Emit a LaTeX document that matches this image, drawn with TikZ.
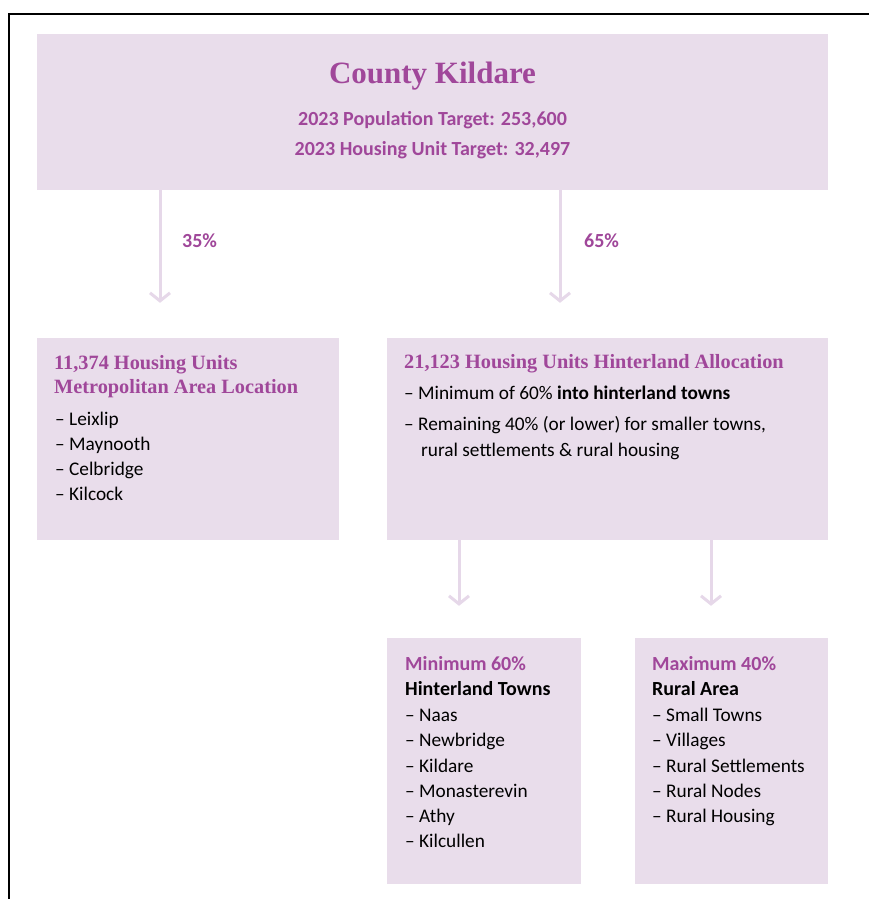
\documentclass[tikz,border=0pt]{standalone}
\usepackage{fontspec}
\setmainfont{Carlito}
\newfontfamily\headserif{Liberation Serif}
\usetikzlibrary{arrows.meta}
\definecolor{boxfill}{HTML}{E9DDEB}
\definecolor{arrowcol}{HTML}{E6D8E9}
\definecolor{kpurple}{HTML}{A0479A}
\begin{document}
\begin{tikzpicture}[x=1pt,y=-1pt,
  box/.style={fill=boxfill, draw=none, inner sep=0pt},
  txt/.style={anchor=west, inner sep=0pt, yshift=-2pt, text height=13pt, text depth=4pt, font=\fontsize{19.3}{22}\selectfont},
  btxt/.style={txt, font=\fontsize{20}{22}\selectfont\bfseries},
  ptxt/.style={txt, text=kpurple, font=\fontsize{20}{22}\selectfont\bfseries},
  head/.style={anchor=west, inner sep=0pt, yshift=-2pt, text height=13pt, text depth=4pt, text=kpurple, font=\headserif\bfseries\fontsize{20.3}{22}\selectfont},
  sub/.style={inner sep=0pt, text=kpurple, font=\fontsize{20}{22}\selectfont\bfseries},
  pct/.style={anchor=west, inner sep=0pt, text=kpurple, font=\fontsize{20}{22}\selectfont\bfseries},
  arr/.style={draw=arrowcol, line width=3pt, -{Straight Barb[length=8pt,width=20pt]}}
]
\useasboundingbox (0,0) rectangle (869,899);
\fill[white] (0,0) rectangle (869,899);
% frame
\draw[line width=2pt, line cap=rect] (9,899) -- (9,14) -- (869,14);

% boxes
\node[box, minimum width=791pt, minimum height=156pt] (top) at (432.5,112) {};
\node[box, minimum width=302pt, minimum height=202pt] (metro) at (188,439) {};
\node[box, minimum width=441pt, minimum height=202pt] (hint) at (607.5,439) {};
\node[box, minimum width=194pt, minimum height=246pt] (towns) at (484,761) {};
\node[box, minimum width=193pt, minimum height=246pt] (rural) at (731.5,761) {};

% top text
\node[inner sep=0pt, text=kpurple, font=\headserif\bfseries\fontsize{31}{34}\selectfont] (title) at (432.5,76) {County Kildare};
\node[sub] (pop) at (432.5,120) {2023 Population Target: 253,600};
\node[sub] (hu) at (432.5,150) {2023 Housing Unit Target: 32,497};

% arrows
\path ([xshift=-28pt]metro.north) coordinate (a1);
\path ([xshift=-47.5pt]hint.north) coordinate (a2);
\path ([xshift=-25pt]towns.north) coordinate (a3);
\path ([xshift=-20.5pt]rural.north) coordinate (a4);
\draw[arr, shorten >=35pt] (top.south -| a1) -- (a1);
\draw[arr, shorten >=35pt] (top.south -| a2) -- (a2);
\draw[arr, shorten >=32pt] (hint.south -| a3) -- (a3);
\draw[arr, shorten >=32pt] (hint.south -| a4) -- (a4);
\node[pct] (p35) at (182,241) {35\%};
\node[pct] (p65) at (584,241) {65\%};

% metro box
\node[head] (m1) at (54,363) {11,374 Housing Units};
\node[head] (m2) at (54,387) {Metropolitan Area Location};
\node[txt] (m3) at (55,419) {– Leixlip};
\node[txt] (m4) at (55,444) {– Maynooth};
\node[txt] (m5) at (55,469) {– Celbridge};
\node[txt] (m6) at (55,494) {– Kilcock};

% hinterland box
\node[head] (h1) at (404,362) {21,123 Housing Units Hinterland Allocation};
\node[txt] (h2) at (404,393) {– Minimum of 60\% \textbf{into hinterland towns}};
\node[txt] (h3) at (404,424) {– Remaining 40\% (or lower) for smaller towns,};
\node[txt] (h4) at (421,450) {rural settlements \& rural housing};

% towns box
\node[ptxt] (n1) at (405,664) {Minimum 60\%};
\node[btxt] (n2) at (405,689) {Hinterland Towns};
\node[txt] (n3) at (405,715) {– Naas};
\node[txt] (n4) at (405,740) {– Newbridge};
\node[txt] (n5) at (405,766) {– Kildare};
\node[txt] (n6) at (405,791) {– Monasterevin};
\node[txt] (n7) at (405,816) {– Athy};
\node[txt] (n8) at (405,841) {– Kilcullen};

% rural box
\node[ptxt] (r1) at (652,664) {Maximum 40\%};
\node[btxt] (r2) at (652,689) {Rural Area};
\node[txt] (r3) at (652,715) {– Small Towns};
\node[txt] (r4) at (652,740) {– Villages};
\node[txt] (r5) at (652,766) {– Rural Settlements};
\node[txt] (r6) at (652,791) {– Rural Nodes};
\node[txt] (r7) at (652,816) {– Rural Housing};
\end{tikzpicture}
\end{document}
